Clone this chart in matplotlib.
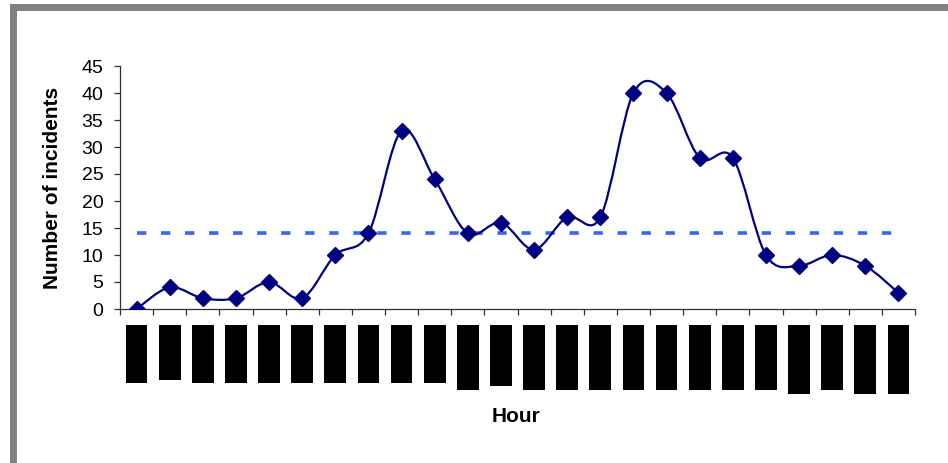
import numpy as np
import matplotlib.pyplot as plt
from matplotlib.path import Path
from matplotlib.patches import PathPatch, Rectangle

# incidents per hour (24 hourly categories)
incidents = [0, 4, 2, 2, 5, 2, 10, 14, 33, 24, 14, 16, 11, 17, 17, 40, 40, 28, 28, 10, 8, 10, 8, 3]
threshold = 14
yticks = [0, 5, 10, 15, 20, 25, 30, 35, 40, 45]
# the hour labels came out as solid black blocks; their lengths
label_len = [58, 55, 58, 58, 58, 58, 58, 58, 58, 58, 65, 61,
             65, 65, 65, 65, 65, 65, 65, 65, 69, 65, 69, 69]

plt.rcParams['font.family'] = ['Liberation Sans', 'DejaVu Sans']
plt.rcParams['lines.scale_dashes'] = False


def smooth_path(x, y):
    # Catmull-Rom style bezier, like the spreadsheet "smoothed line"
    pts = np.column_stack([x, y]).astype(float)
    n = len(pts)
    verts = [pts[0]]
    codes = [Path.MOVETO]
    for i in range(n - 1):
        p0 = pts[i - 1] if i > 0 else pts[i]
        p1 = pts[i]
        p2 = pts[i + 1]
        p3 = pts[i + 2] if i + 2 < n else pts[i + 1]
        c1 = p1 + (p2 - p0) / 6
        c2 = p2 - (p3 - p1) / 6
        verts += [c1, c2, p2]
        codes += [Path.CURVE4] * 3
    return Path(verts, codes)


W, H = 948, 463
fig = plt.figure(figsize=(W / 100, H / 100), dpi=100)

ax = fig.add_axes([120 / W, 1 - 309 / H, 795 / W, 243 / H])
x = np.arange(len(incidents))

ax.plot([x[0], x[-1]], [threshold, threshold], color='#3366FF', lw=2.6,
        dashes=(6.7, 10.6), solid_capstyle='butt', dash_capstyle='butt', zorder=2)
ax.add_patch(PathPatch(smooth_path(x, incidents), facecolor='none',
                       edgecolor='#000080', lw=1.6, zorder=3))
ax.plot(x, incidents, ls='none', marker='D', ms=8, color='#000080', zorder=4)

ax.set_xlim(-0.5, len(incidents) - 0.5)
ax.set_ylim(0, 45)
ax.set_yticks(yticks)
ax.set_xticks(np.arange(len(incidents) + 1) - 0.5)
ax.set_xticklabels([])
for s in ['top', 'right']:
    ax.spines[s].set_visible(False)
for s in ['left', 'bottom']:
    ax.spines[s].set_color('#303030')
    ax.spines[s].set_linewidth(0.9)
ax.tick_params(axis='y', length=4.5, width=0.9, color='#303030', labelsize=14, pad=7.5)
ax.tick_params(axis='x', length=4, width=0.9, color='#303030')

fig.text(53 / W, 1 - 188 / H, 'Number of incidents', fontsize=15, fontweight='bold',
         rotation=90, ha='center', va='center')

# blocked-out hour labels
lab = fig.add_axes([120 / W, 1 - 400 / H, 795 / W, 75 / H])
lab.bar(x, label_len, width=0.66, color='black')
lab.set_xlim(-0.5, len(incidents) - 0.5)
lab.set_ylim(75, 0)
lab.axis('off')

fig.text(516 / W, 1 - 416 / H, 'Hour', fontsize=15, fontweight='bold',
         ha='center', va='center')

# grey frame of the chart area
fig.patches.append(Rectangle((12.5 / W, -20 / H), 960 / W, (20 + H - 6.5) / H,
                             transform=fig.transFigure, fill=False,
                             edgecolor='#808080', lw=5.0))

fig.savefig('out.png', dpi=100)
